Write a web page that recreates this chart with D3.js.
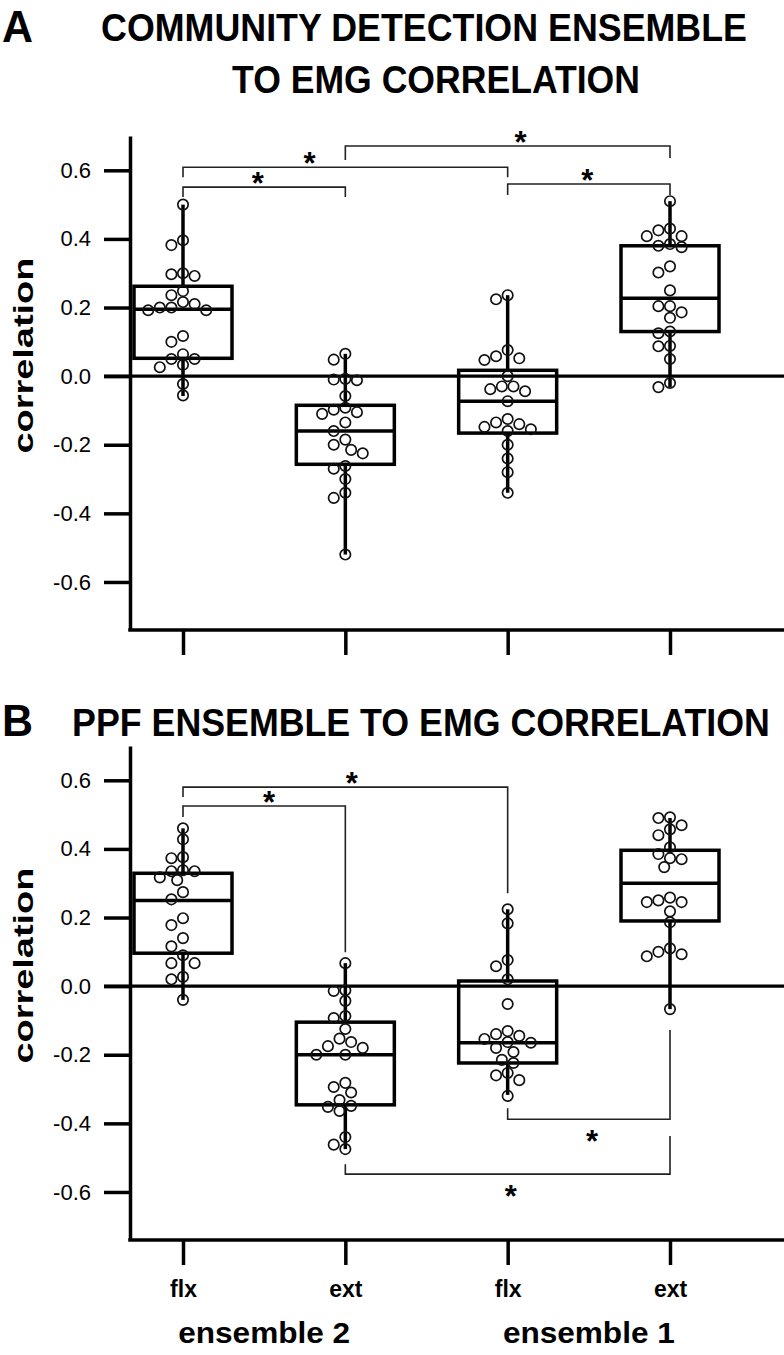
<!DOCTYPE html>
<html><head><meta charset="utf-8">
<script src="https://cdn.jsdelivr.net/npm/d3@7"></script>
<style>
body{margin:0;background:#fff}
svg{display:block}
text{font-family:"Liberation Sans",Arial,Helvetica,sans-serif;fill:#000}
</style>
</head><body>
<svg id="chart" width="784" height="1355"></svg>
<script>
// ---------------- data ----------------
const categories = ["flx", "ext", "flx", "ext"];
const groups = ["ensemble 2", "ensemble 1"];
const yTicks = [-0.6, -0.4, -0.2, 0.0, 0.2, 0.4, 0.6];
const yLabel = "correlation";
const panelLetters = ["A", "B"];
const titleA = ["COMMUNITY DETECTION ENSEMBLE", "TO EMG CORRELATION"];
const titleB = ["PPF ENSEMBLE TO EMG CORRELATION"];

// Panel A: per-recording correlations (e2 flx, e2 ext, e1 flx, e1 ext)
const A_e2_flx = [0.50,0.382,0.396,0.292,0.297,0.30,0.248,0.236,0.216,0.20,0.20,0.21,0.192,0.192,0.117,0.10,0.064,0.05,0.05,0.033,0.026,-0.023,-0.056];
const A_e2_ext = [0.065,0.048,-0.008,-0.010,-0.012,-0.058,-0.092,-0.098,-0.105,-0.110,-0.135,-0.16,-0.185,-0.20,-0.215,-0.225,-0.262,-0.27,-0.30,-0.34,-0.355,-0.52];
const A_e1_flx = [0.236,0.224,0.076,0.058,0.052,0.047,0.0,-0.03,-0.03,-0.038,-0.044,-0.073,-0.125,-0.135,-0.14,-0.148,-0.155,-0.16,-0.2,-0.24,-0.28,-0.34];
const A_e1_ext = [0.51,0.43,0.425,0.408,0.408,0.376,0.38,0.385,0.32,0.302,0.25,0.204,0.204,0.186,0.17,0.125,0.13,0.087,0.088,0.05,-0.02,-0.032];
// box stats: [whiskerLow, q1, median, q3, whiskerHigh]
const A_stats = [
  [-0.058, 0.052, 0.195, 0.262, 0.50],
  [-0.52, -0.257, -0.16, -0.085, 0.065],
  [-0.34, -0.166, -0.073, 0.017, 0.236],
  [-0.032, 0.13, 0.227, 0.38, 0.51]
];
// significance brackets: [fromIndex, toIndex, lineLevel, fromEnd, toEnd, starFraction]
const A_brackets = [
  [0, 1, 0.551, 0.522, 0.522, 0.46],
  [0, 2, 0.609, 0.580, 0.580, 0.39],
  [1, 3, 0.671, 0.630, 0.636, 0.54],
  [2, 3, 0.560, 0.528, 0.528, 0.49]
];

// Panel B
const B_e2_flx = [0.46,0.428,0.373,0.376,0.335,0.335,0.338,0.309,0.317,0.274,0.253,0.198,0.178,0.14,0.116,0.09,0.067,0.067,0.02,0.027,-0.04];
const B_e2_ext = [0.067,-0.012,-0.014,-0.043,-0.087,-0.093,-0.125,-0.153,-0.163,-0.175,-0.18,-0.2,-0.2,-0.282,-0.294,-0.31,-0.332,-0.349,-0.352,-0.364,-0.44,-0.462,-0.475];
const B_e1_flx = [0.224,0.183,0.076,0.058,0.02,-0.052,-0.131,-0.14,-0.145,-0.154,-0.163,-0.165,-0.18,-0.192,-0.215,-0.224,-0.253,-0.26,-0.274,-0.32];
const B_e1_ext = [0.49,0.492,0.457,0.469,0.44,0.405,0.385,0.373,0.37,0.347,0.25,0.258,0.245,0.245,0.218,0.186,0.11,0.10,0.087,0.093,-0.067];
const B_stats = [
  [-0.04, 0.096, 0.25, 0.329, 0.46],
  [-0.475, -0.346, -0.2, -0.105, 0.067],
  [-0.317, -0.224, -0.165, 0.015, 0.224],
  [-0.067, 0.19, 0.30, 0.396, 0.49]
];
const B_brackets = [
  [0, 1, 0.525, 0.493, 0.099, 0.53],
  [0, 2, 0.580, 0.551, 0.271, 0.52],
  [2, 3, -0.388, -0.356, -0.128, 0.52],
  [1, 3, -0.548, -0.519, -0.437, 0.51]
];

// ---------------- drawing ----------------
const svg = d3.select("#chart");
const W = 784;
const fmt = d3.formatLocale({decimal: ".", thousands: ",", grouping: [3], currency: ["", ""], minus: "-"}).format(".1f");
const x = d3.scalePoint().domain(d3.range(categories.length)).range([183, 670]);
const axisX = 130;
const R = 5.2;
const boxHalf = 49;

// text drawn at base size, then scaled to a target width and a vertical stretch
function fitText(parent, str, cx, baseline, targetW, baseSize, vScale, anchor) {
  const t = parent.append("text").attr("font-size", baseSize).attr("font-weight", "bold")
    .attr("text-anchor", anchor || "middle").text(str);
  const w = t.node().getComputedTextLength();
  const sx = targetW / w;
  t.attr("transform", `translate(${cx},${baseline}) scale(${sx},${vScale})`);
  return t;
}

function dodge(values, y) {
  const order = d3.range(values.length).sort((a, b) => values[b] - values[a]);
  const placed = [];
  const offs = new Array(values.length).fill(0);
  const step = 5.8, minD = 10.4;
  for (const i of order) {
    const py = y(values[i]);
    for (let k = 0; k < 60; k++) {
      const o = k === 0 ? 0 : (k % 2 ? -1 : 1) * Math.ceil(k / 2) * step;
      if (placed.every(p => Math.hypot(p.x - o, p.y - py) >= minD)) {
        offs[i] = o; placed.push({x: o, y: py}); break;
      }
    }
  }
  return offs;
}

function panel(cfg) {
  const g = svg.append("g");
  const y = d3.scaleLinear().domain([-0.74, 0.70]).range([cfg.bottom, cfg.bottom - 494]);

  // y axis
  const ax = g.append("g").attr("transform", `translate(${axisX},0)`)
    .call(d3.axisLeft(y).tickValues(yTicks).tickFormat(fmt).tickSize(26).tickSizeOuter(0).tickPadding(13));
  ax.select(".domain").attr("stroke", "#000").attr("stroke-width", 3.5);
  ax.selectAll(".tick line").attr("stroke", "#000").attr("stroke-width", 3.5);
  ax.selectAll(".tick text").attr("font-size", 22).attr("fill", "#000")
    .attr("font-family", '"Liberation Sans",Arial,sans-serif');

  // zero line
  g.append("line").attr("x1", axisX - 26).attr("x2", W).attr("y1", y(0)).attr("y2", y(0))
    .attr("stroke", "#000").attr("stroke-width", 3.2);

  // x axis
  const xb = g.append("g").attr("transform", `translate(0,${cfg.bottom})`)
    .call(d3.axisBottom(x).tickSize(25).tickSizeOuter(0).tickPadding(16)
      .tickFormat(i => cfg.showX ? categories[i] : ""));
  xb.select(".domain").remove();
  xb.selectAll(".tick line").attr("stroke", "#000").attr("stroke-width", 3.5);
  xb.selectAll(".tick text").attr("font-size", 23).attr("font-weight", "bold").attr("fill", "#000")
    .attr("font-family", '"Liberation Sans",Arial,sans-serif');
  g.append("line").attr("x1", axisX - 1.75).attr("x2", W).attr("y1", cfg.bottom).attr("y2", cfg.bottom)
    .attr("stroke", "#000").attr("stroke-width", 3.5);

  // y label
  g.append("text").attr("transform", `translate(33,${y(0.06)}) rotate(-90)`)
    .attr("text-anchor", "middle").attr("font-size", 27).attr("font-weight", "bold")
    .attr("textLength", 196).attr("lengthAdjust", "spacingAndGlyphs").text(yLabel);

  // boxes
  cfg.stats.forEach((s, i) => {
    const cx = x(i);
    const bg = g.append("g");
    bg.append("line").attr("x1", cx).attr("x2", cx).attr("y1", y(s[4])).attr("y2", y(s[3]))
      .attr("stroke", "#000").attr("stroke-width", 3.5);
    bg.append("line").attr("x1", cx).attr("x2", cx).attr("y1", y(s[1])).attr("y2", y(s[0]))
      .attr("stroke", "#000").attr("stroke-width", 3.5);
    bg.append("rect").attr("x", cx - boxHalf).attr("width", boxHalf * 2)
      .attr("y", y(s[3])).attr("height", y(s[1]) - y(s[3]))
      .attr("fill", "none").attr("stroke", "#000").attr("stroke-width", 3.5);
    bg.append("line").attr("x1", cx - boxHalf).attr("x2", cx + boxHalf).attr("y1", y(s[2])).attr("y2", y(s[2]))
      .attr("stroke", "#000").attr("stroke-width", 3.5);
  });

  // points
  cfg.series.forEach((vals, i) => {
    const offs = dodge(vals, y);
    g.append("g").selectAll("circle").data(vals).join("circle")
      .attr("cx", (d, j) => x(i) + offs[j]).attr("cy", d => y(d)).attr("r", R)
      .attr("fill", "none").attr("stroke", "#111").attr("stroke-width", 1.7);
  });

  // brackets
  cfg.brackets.forEach(b => {
    const x1 = x(b[0]), x2 = x(b[1]);
    const yl = y(b[2]);
    g.append("path").attr("d", `M${x1},${y(b[3])}V${yl}H${x2}V${y(b[4])}`)
      .attr("fill", "none").attr("stroke", "#222").attr("stroke-width", 1.6);
    const above = b[3] < b[2];
    const sx = x1 + (x2 - x1) * b[5];
    const sy = above ? yl - 11 : yl + 15;
    g.append("text").attr("x", sx).attr("y", sy + 0.57 * 31).attr("text-anchor", "middle")
      .attr("font-size", 31).attr("font-weight", "bold").text("*");
  });

  // panel letter & title
  fitText(g, cfg.letter, 2, cfg.letterY, 31, 36, 1.25, "start");
  cfg.title.forEach((t, k) => {
    const spec = cfg.titleSpec[k];
    fitText(g, t, spec[0], spec[1], spec[2], 30, 1.3, "middle");
  });

  // group labels
  if (cfg.showX) {
    groups.forEach((gname, k) => {
      const cx = (x(k * 2) + x(k * 2 + 1)) / 2;
      fitText(g, gname, cx, cfg.bottom + 103, 172, 29, 1.0, "middle");
    });
  }
}

panel({bottom: 630, series: [A_e2_flx, A_e2_ext, A_e1_flx, A_e1_ext], stats: A_stats, brackets: A_brackets,
  showX: false, letter: panelLetters[0], letterY: 42, title: titleA,
  titleSpec: [[424, 41, 646], [436, 93, 408]]});
panel({bottom: 1240, series: [B_e2_flx, B_e2_ext, B_e1_flx, B_e1_ext], stats: B_stats, brackets: B_brackets,
  showX: true, letter: panelLetters[1], letterY: 736, title: titleB,
  titleSpec: [[421, 736, 698]]});
</script>
</body></html>
